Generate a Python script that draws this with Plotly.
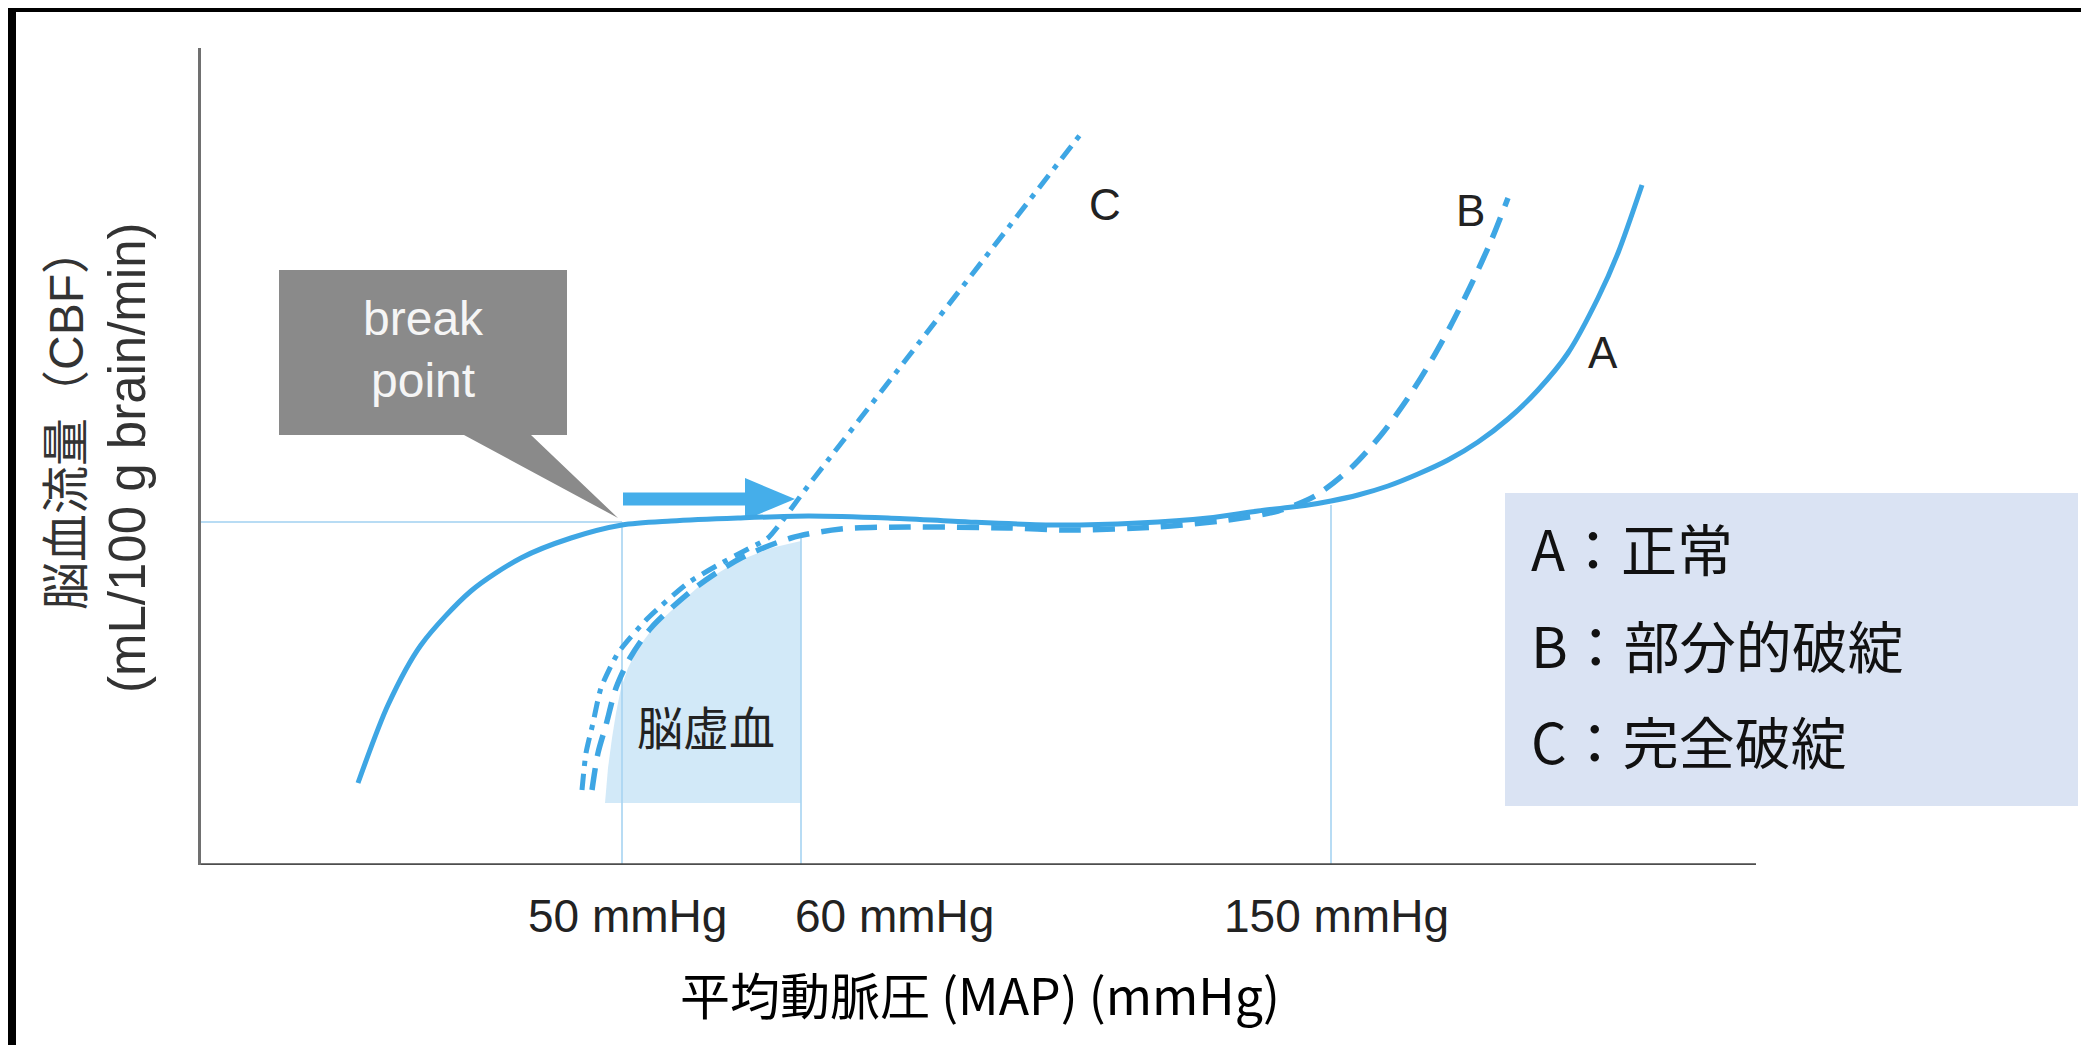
import plotly.graph_objects as go

# Schematic units: x = mean arterial pressure axis, y = CBF (arbitrary units)
a_x = [15.7, 18.7, 22.0, 27.0, 32.0, 37.0, 42.1, 47.0, 53.7, 60.7, 68.7, 76.7, 85.7, 93.7,
       100.7, 105.7, 110.7, 113.0, 115.7, 118.7, 121.7, 124.7, 127.7, 130.7, 133.7, 136.7,
       139.7, 141.7, 144.1]
a_y = [8.2, 16.0, 22.0, 27.4, 30.7, 32.7, 34.0, 34.4, 34.7, 34.9, 34.7, 34.3, 34.0, 34.2,
       34.7, 35.4, 36.0, 36.4, 37.0, 37.9, 39.1, 40.5, 42.3, 44.6, 47.5, 51.2, 56.7, 61.2, 68.0]

b_x = [39.1, 39.7, 40.5, 41.5, 42.9, 45.0, 49.4, 54.0, 59.0, 64.0, 70.7, 80.7, 86.7, 95.7,
       102.7, 107.7, 111.4, 115.0, 118.0, 120.7, 123.0, 125.0, 127.0, 129.0, 130.7]
b_y = [7.5, 11.2, 14.0, 17.7, 20.7, 23.7, 27.7, 30.7, 32.7, 33.6, 33.8, 33.7, 33.5, 33.8,
       34.5, 35.4, 36.9, 39.7, 43.0, 46.7, 50.4, 54.0, 58.0, 62.4, 66.7]

c_x = [38.1, 38.5, 39.2, 40.0, 41.7, 44.7, 48.7, 51.7, 54.7, 56.7, 60.7, 70.7, 80.7, 88.2]
c_y = [7.5, 11.2, 14.2, 17.7, 21.2, 24.7, 28.2, 30.0, 31.6, 32.7, 37.9, 50.8, 63.7, 73.4]

# ischemia zone (脳虚血) outline
isch_x = [40.4, 40.7, 41.1, 41.5, 42.0, 42.7, 43.7, 45.2, 47.0, 50.4, 53.7, 57.0, 60.0, 60.0, 40.4]
isch_y = [6.2, 9.7, 12.7, 15.2, 17.7, 19.7, 21.7, 23.7, 25.4, 28.4, 30.4, 31.7, 32.4, 6.2, 6.2]

tick_vals = [42.1, 60.0, 113.0]
tick_text = ["50 mmHg", "60 mmHg", "150 mmHg"]
tick_label_x = [42.6, 69.3, 113.5]
guide_tops = [34.3, 33.1, 36.0]
baseline_cbf = 34.3

legend_lines = ["A：正常", "B：部分的破綻", "C：完全破綻"]
curve_labels = ["A", "B", "C"]
curve_label_pos = [(140.2, 51.3), (126.9, 65.5), (90.4, 66.1)]

BLUE = "#3ea6e4"
W, H = 2089, 1045
L, R, T, B = 193, 9, 40, 188
PW, PH = W - L - R, H - T - B


def px_x(px):
    return (px - L) / PW


def px_y(py):
    return (H - B - py) / PH


fig = go.Figure()

fig.add_trace(go.Scatter(x=isch_x, y=isch_y, mode="lines", fill="toself",
                         fillcolor="rgba(168,212,242,0.52)", line=dict(width=0),
                         hoverinfo="skip", showlegend=False))
fig.add_trace(go.Scatter(x=a_x, y=a_y, mode="lines", name="A",
                         line=dict(color=BLUE, width=5, shape="spline", smoothing=0.8),
                         showlegend=False))
fig.add_trace(go.Scatter(x=b_x, y=b_y, mode="lines", name="B",
                         line=dict(color=BLUE, width=5.5, dash="22px,12px", shape="spline", smoothing=0.8),
                         showlegend=False))
fig.add_trace(go.Scatter(x=c_x, y=c_y, mode="lines", name="C",
                         line=dict(color=BLUE, width=5, dash="16px,8px,5px,8px", shape="spline", smoothing=0.6),
                         showlegend=False))

shapes = []
guide = dict(color="#b8dcf4", width=2)
shapes.append(dict(type="line", xref="x", yref="y", x0=0, x1=tick_vals[0], y0=baseline_cbf, y1=baseline_cbf,
                   line=guide, layer="below"))
for xv, top in zip(tick_vals, guide_tops):
    shapes.append(dict(type="line", xref="x", yref="y", x0=xv, x1=xv, y0=0, y1=top, line=guide, layer="below"))

# x axis line (only up to the end of the drawn axis)
shapes.append(dict(type="line", xref="x", yref="y", x0=0, x1=155.5, y0=0, y1=0,
                   line=dict(color="#4d4d4d", width=3.5), layer="above"))

# break point callout
shapes.append(dict(type="path", xref="x", yref="y",
                   path="M 7.8 59.5 L 36.6 59.5 L 36.6 43.0 L 33.0 43.0 L 41.7 34.7 L 26.3 43.0 L 7.8 43.0 Z",
                   fillcolor="#8a8a8a", line=dict(width=0), layer="above"))

# thick arrow
shapes.append(dict(type="rect", xref="x", yref="y", x0=42.2, x1=54.6, y0=35.95, y1=37.25,
                   fillcolor="#45aeea", line=dict(width=0), layer="below"))
shapes.append(dict(type="path", xref="x", yref="y", path="M 54.4 38.7 L 59.4 36.6 L 54.4 34.5 Z",
                   fillcolor="#45aeea", line=dict(width=0), layer="below"))

# legend box
shapes.append(dict(type="rect", xref="x", yref="y", x0=130.4, x1=187.7, y0=5.9, y1=37.2,
                   fillcolor="#dae3f3", line=dict(width=0), layer="below"))

# black frame strips at top / left of the image
shapes.append(dict(type="rect", xref="paper", yref="paper", x0=px_x(0), x1=px_x(8), y0=px_y(H), y1=px_y(0),
                   fillcolor="black", line=dict(width=0), layer="above"))
shapes.append(dict(type="rect", xref="paper", yref="paper", x0=px_x(0), x1=px_x(W), y0=px_y(4), y1=px_y(0),
                   fillcolor="black", line=dict(width=0), layer="above"))

ann = []
ann.append(dict(x=22.2, y=51.6, xref="x", yref="y", text="break<br>point", showarrow=False,
                xanchor="center", yanchor="middle",
                font=dict(family="Liberation Sans, Arial", size=48, color="#f5f5f5")))
for t, (lx, ly) in zip(curve_labels, curve_label_pos):
    ann.append(dict(x=lx, y=ly, xref="x", yref="y", text=t, showarrow=False,
                    xanchor="center", yanchor="middle",
                    font=dict(family="Liberation Sans, Arial", size=44, color="#222")))
ann.append(dict(x=50.5, y=14.0, xref="x", yref="y", text="脳虚血", showarrow=False,
                xanchor="center", yanchor="middle",
                font=dict(family="Noto Sans CJK JP", size=46, color="#222")))
for t, lx in zip(tick_text, tick_label_x):
    ann.append(dict(x=lx, y=px_y(908), xref="x", yref="paper", text=t, showarrow=False,
                    xanchor="center", yanchor="middle",
                    font=dict(family="Liberation Sans, Arial", size=46, color="#222")))
for t, ly in zip(legend_lines, [31.9, 22.2, 12.6]):
    ann.append(dict(x=132.8, y=ly, xref="x", yref="y", text=t, showarrow=False,
                    xanchor="left", yanchor="middle",
                    font=dict(family="Noto Sans CJK JP", size=56, color="#111")))
ann.append(dict(x=px_x(972), y=px_y(985), xref="paper", yref="paper", text="平均動脈圧 (MAP) (mmHg)",
                showarrow=False, xanchor="center", yanchor="middle",
                font=dict(family="Noto Sans CJK JP", size=50, color="#000")))
ann.append(dict(x=px_x(58), y=px_y(410), xref="paper", yref="paper", text="脳血流量（CBF）",
                showarrow=False, textangle=-90, xanchor="center", yanchor="middle",
                font=dict(family="Liberation Sans, Noto Sans CJK JP", size=48, color="#333")))
ann.append(dict(x=px_x(119), y=px_y(450), xref="paper", yref="paper", text="(mL/100 g brain/min)",
                showarrow=False, textangle=-90, xanchor="center", yanchor="middle",
                font=dict(family="Liberation Sans, Arial", size=51, color="#333")))

fig.update_layout(
    width=W, height=H,
    margin=dict(l=L, r=R, t=T, b=B),
    paper_bgcolor="white", plot_bgcolor="white",
    shapes=shapes, annotations=ann,
    hovermode=False,
    xaxis=dict(range=[0, PW / 10], showgrid=False, zeroline=False, showline=False,
               showticklabels=False, ticks=""),
    yaxis=dict(range=[0, PH / 10], showgrid=False, zeroline=False, showline=True,
               linecolor="#707070", linewidth=3, showticklabels=False, ticks=""),
)

fig.write_html("out.html")
